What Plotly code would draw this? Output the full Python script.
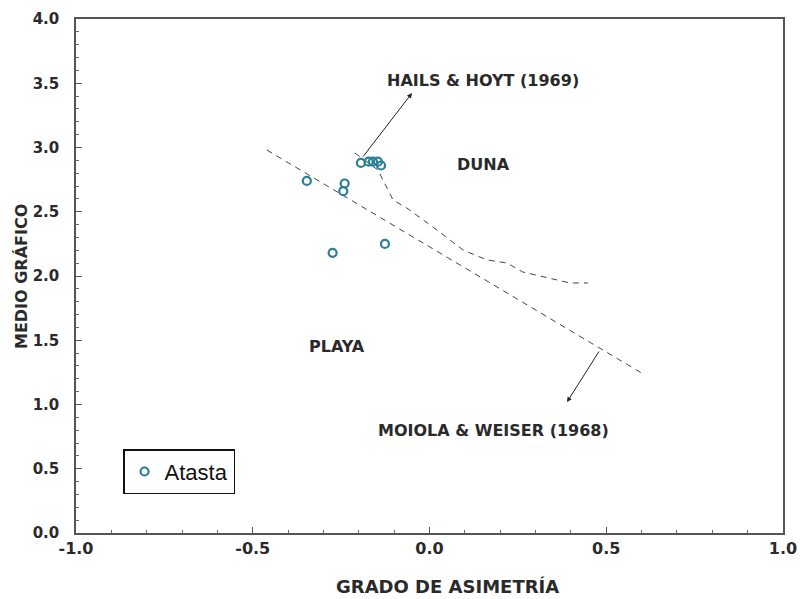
import plotly.graph_objects as go

# Data: Atasta samples
asimetria = [-0.347, -0.240, -0.244, -0.274, -0.126, -0.194, -0.172, -0.160, -0.146, -0.137]
medio = [2.74, 2.72, 2.66, 2.18, 2.25, 2.88, 2.89, 2.89, 2.89, 2.86]

# Moiola & Weiser (1968) boundary
mw_x = [-0.46, 0.60]
mw_y = [2.98, 1.245]

# Hails & Hoyt (1969) boundary
hh_x = [-0.211, -0.146, -0.103, -0.064, 0.021, 0.095, 0.163, 0.219, 0.264, 0.341, 0.397, 0.448]
hh_y = [2.957, 2.825, 2.591, 2.529, 2.358, 2.202, 2.125, 2.101, 2.031, 1.984, 1.946, 1.946]

x_ticks = [-1.0, -0.5, 0.0, 0.5, 1.0]
x_labels = ["-1.0", "-0.5", "0.0", "0.5", "1.0"]
y_ticks = [0.0, 0.5, 1.0, 1.5, 2.0, 2.5, 3.0, 3.5, 4.0]
y_labels = ["0.0", "0.5", "1.0", "1.5", "2.0", "2.5", "3.0", "3.5", "4.0"]

FONT = "DejaVu Sans"
TXT = "#2a2a2a"

fig = go.Figure()
fig.add_trace(go.Scatter(x=mw_x, y=mw_y, mode="lines", showlegend=False,
                         line=dict(color="#444444", width=1, dash="6px,5px"), hoverinfo="skip"))
fig.add_trace(go.Scatter(x=hh_x, y=hh_y, mode="lines", showlegend=False,
                         line=dict(color="#444444", width=1, dash="6px,5px"), hoverinfo="skip"))
fig.add_trace(go.Scatter(x=asimetria, y=medio, mode="markers", name="Atasta",
                         marker=dict(symbol="circle-open", size=8, color="#2c7f98",
                                     line=dict(width=2.2, color="#2c7f98"))))

def ann(text, x, y, size=16):
    fig.add_annotation(x=x, y=y, text=text, showarrow=False, xref="x", yref="y",
                       font=dict(family=FONT, size=size, color=TXT, weight="bold"))

ann("HAILS &amp; HOYT (1969)", 0.152, 3.525)
ann("DUNA", 0.154, 2.864)
ann("PLAYA", -0.262, 1.455)
ann("MOIOLA &amp; WEISER (1968)", 0.180, 0.794)

fig.add_annotation(x=-0.0495, y=3.424, ax=-0.191, ay=2.918, xref="x", yref="y",
                   axref="x", ayref="y", text="", showarrow=True, arrowhead=2,
                   arrowsize=1, arrowwidth=1, arrowcolor="#222222")
fig.add_annotation(x=0.389, y=1.019, ax=0.482, ay=1.424, xref="x", yref="y",
                   axref="x", ayref="y", text="", showarrow=True, arrowhead=2,
                   arrowsize=1, arrowwidth=1, arrowcolor="#222222")

# axis titles
fig.add_annotation(text="GRADO DE ASIMETRÍA", xref="paper", yref="paper",
                   x=0.526, y=(533 - 586) / 514, xanchor="center", yanchor="middle",
                   showarrow=False,
                   font=dict(family=FONT, size=18, color=TXT, weight="bold"))
fig.add_annotation(text="MEDIO GRÁFICO", xref="paper", yref="paper", textangle=-90,
                   x=(21 - 76) / 707, y=0.498, xanchor="center", yanchor="middle",
                   showarrow=False,
                   font=dict(family=FONT, size=16, color=TXT, weight="bold"))

axis_common = dict(showgrid=False, zeroline=False, showline=True, linecolor="#555555",
                   linewidth=1.5, mirror=True, ticks="inside", ticklen=6, tickwidth=1.2,
                   tickcolor="#555555", tickmode="array", automargin=False)

fig.update_xaxes(range=[-1.0, 1.0], tickvals=x_ticks, ticktext=x_labels,
                 tickfont=dict(family=FONT, size=16, color=TXT, weight="bold"),
                 minor=dict(ticks="inside", dtick=0.1, tick0=0, ticklen=3, tickcolor="#666666"),
                 **axis_common)
fig.update_yaxes(range=[0.0, 4.0], tickvals=y_ticks, ticktext=y_labels,
                 ticklabelstandoff=12,
                 tickfont=dict(family=FONT, size=15, color=TXT, weight="bold"),
                 minor=dict(ticks="inside", dtick=0.1, tick0=0, ticklen=3, tickcolor="#666666"),
                 **axis_common)

fig.update_layout(width=800, height=599, plot_bgcolor="white", paper_bgcolor="white",
                  margin=dict(l=76, r=17, t=19, b=66),
                  legend=dict(x=0.0665, y=0.163, xanchor="left", yanchor="top",
                              bordercolor="#111111", borderwidth=1.5, bgcolor="white",
                              itemwidth=30,
                              font=dict(family="Liberation Sans", size=22, color="#111111")))

fig.write_html("out.html")
